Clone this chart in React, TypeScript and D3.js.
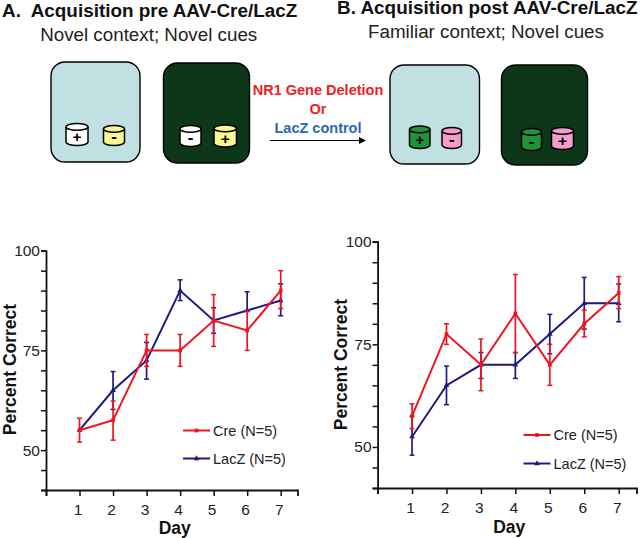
import React, { useEffect, useRef } from "react";
import * as d3 from "d3";

const days = [1, 2, 3, 4, 5, 6, 7];
const yTicks = [40, 45, 50, 55, 60, 65, 70, 75, 80, 85, 90, 95, 100];
const yLabels = [50, 75, 100];

// panel A readings
const preCre = [55, 57.5, 75, 75, 82.5, 80, 90];
const preCreHi = [58, 62.3, 79, 79, 89, 85, 95];
const preCreLo = [52, 52.5, 71, 71, 76, 75, 85.5];
const preLacZ = [55, 65, 72.5, 90, 82.5, 85, 87.5];
const preLacZHi = [55, 69.7, 77, 92.7, 85.7, 89.7, 91.7];
const preLacZLo = [55, 60.2, 67.8, 87.5, 79.3, 85, 83.7];

// panel B readings
const postCre = [57.5, 77.5, 70, 82.5, 70, 80, 87.5];
const postCreHi = [60.5, 80, 76.3, 92, 75, 83.3, 91.5];
const postCreLo = [54.5, 75, 63.7, 73, 65, 76.8, 83.7];
const postLacZ = [52.5, 65, 70, 70, 77.5, 85, 85];
const postLacZHi = [57.5, 69.7, 73, 73, 82.3, 91.3, 89.7];
const postLacZLo = [48, 60.3, 66.7, 66.7, 72.7, 78.7, 80.5];

const RED = "#f0141e";
const BLUE = "#1f1a80";
const FONT = "'Liberation Sans', Arial, sans-serif";

const panels = [
  {
    x0: 46, x1: 280.7, y100: 250.7, y40: 490, end: 297.5, tickLeft: 5,
    yTitleX: 16, yTitleY: 369.5, dayX: 174.7, dayY: 534, legendX: 183, legendY: 430.5, legendGap: 28,
    cre: [preCre, preCreHi, preCreLo], lacZ: [preLacZ, preLacZHi, preLacZLo],
  },
  {
    x0: 377.6, x1: 618.7, y100: 241.7, y40: 488, end: 636.5, tickLeft: 5,
    yTitleX: 347, yTitleY: 364.5, dayX: 509.3, dayY: 533, legendX: 523.5, legendY: 435, legendGap: 28.5,
    cre: [postCre, postCreHi, postCreLo], lacZ: [postLacZ, postLacZHi, postLacZLo],
  },
];

const drawPanel = (root: any, p: (typeof panels)[number]) => {
  const x = d3.scaleLinear().domain([0, 7]).range([p.x0, p.x1]);
  const y = d3.scaleLinear().domain([40, 100]).range([p.y40, p.y100]);
  const g = root.append("g");

  const yAxis = d3.axisLeft(y).tickValues(yTicks).tickSize(p.tickLeft).tickPadding(1)
    .tickFormat((d: any) => (yLabels.includes(d) ? String(d) : ""));
  const ya = g.append("g").attr("transform", `translate(${p.x0},0)`).call(yAxis);
  ya.select(".domain").attr("stroke-width", 1.8).attr("stroke", "#111");
  ya.selectAll("line").attr("stroke-width", 1.5).attr("stroke", "#111");
  ya.selectAll("text").attr("font-family", FONT).attr("font-size", 15.5).attr("fill", "#222");

  const xScaleAxis = d3.scaleLinear().domain([0, (p.end - p.x0) / ((p.x1 - p.x0) / 7)]).range([p.x0, p.end]);
  const xAxis = d3.axisBottom(xScaleAxis).tickValues([0, ...days]).tickSizeOuter(0).tickSize(6).tickPadding(8)
    .tickFormat((d: any) => (d === 0 ? "" : String(d)));
  const xa = g.append("g").attr("transform", `translate(0,${p.y40})`).call(xAxis);
  xa.select(".domain").attr("stroke-width", 1.8).attr("stroke", "#111");
  xa.selectAll("line").attr("stroke-width", 1.5).attr("stroke", "#111");
  xa.selectAll("text").attr("font-family", FONT).attr("font-size", 15.5).attr("fill", "#222").attr("dx", -2);

  g.append("text").attr("x", p.dayX).attr("y", p.dayY).attr("text-anchor", "middle")
    .attr("font-family", FONT).attr("font-weight", "bold").attr("font-size", 17.5).attr("fill", "#111").text("Day");
  g.append("text").attr("transform", `translate(${p.yTitleX},${p.yTitleY}) rotate(-90)`).attr("text-anchor", "middle")
    .attr("font-family", FONT).attr("font-weight", "bold").attr("font-size", 17.5).attr("fill", "#111").text("Percent Correct");

  const line = d3.line<number>().x((_, i) => x(days[i])).y((d) => y(d));

  const series = [
    { vals: p.lacZ, color: BLUE, sym: d3.symbolTriangle },
    { vals: p.cre, color: RED, sym: d3.symbolSquare },
  ];
  series.forEach(({ vals, color, sym }) => {
    const [mean, hi, lo] = vals;
    g.append("path").attr("d", line(mean)).attr("fill", "none").attr("stroke", color).attr("stroke-width", 2);
    days.forEach((d, i) => {
      const cx = x(d);
      if (hi[i] !== lo[i]) {
        g.append("line").attr("x1", cx).attr("x2", cx).attr("y1", y(hi[i])).attr("y2", y(lo[i]))
          .attr("stroke", color).attr("stroke-width", 1.7);
        [hi[i], lo[i]].forEach((v) => {
          g.append("line").attr("x1", cx - 2.5).attr("x2", cx + 2.5).attr("y1", y(v)).attr("y2", y(v))
            .attr("stroke", color).attr("stroke-width", 1.5);
        });
      }
      g.append("path").attr("transform", `translate(${cx},${y(mean[i])})`)
        .attr("d", d3.symbol().type(sym).size(14)()).attr("fill", color);
    });
  });

  // legend
  [
    { label: "Cre (N=5)", color: RED, sym: d3.symbolSquare },
    { label: "LacZ (N=5)", color: BLUE, sym: d3.symbolTriangle },
  ].forEach((s, i) => {
    const ly = p.legendY + i * p.legendGap;
    g.append("line").attr("x1", p.legendX).attr("x2", p.legendX + 27).attr("y1", ly).attr("y2", ly)
      .attr("stroke", s.color).attr("stroke-width", 2);
    g.append("path").attr("transform", `translate(${p.legendX + 13.5},${ly})`)
      .attr("d", d3.symbol().type(s.sym).size(14)()).attr("fill", s.color);
    g.append("text").attr("x", p.legendX + 30).attr("y", ly + 5).attr("font-family", FONT)
      .attr("font-size", 14.5).attr("fill", "#222").text(s.label);
  });
};

const Can = ({ x, top, w, h, fill, sign }: { x: number; top: number; w: number; h: number; fill: string; sign: string }) => {
  const ry = 3.4;
  const body = `M${x},${top + ry}V${top + h - ry}A${w / 2},${ry} 0 0 0 ${x + w},${top + h - ry}V${top + ry}`;
  return (
    <g stroke="#000" strokeWidth={1.5}>
      <path d={body} fill={fill} />
      <ellipse cx={x + w / 2} cy={top + ry} rx={w / 2} ry={ry} fill={fill} />
      <text x={x + w / 2} y={top + h - 3.5} textAnchor="middle" fontFamily={FONT} fontWeight="bold"
        fontSize={sign === "+" ? 15.5 : 17} fill="#000" stroke="none">{sign}</text>
    </g>
  );
};

const Box = ({ x, y, w, h, fill }: { x: number; y: number; w: number; h: number; fill: string }) => (
  <rect x={x} y={y} width={w} height={h} rx={14} fill={fill} stroke="#000" strokeWidth={1.4} />
);

const App: React.FC = () => {
  const ref = useRef<SVGGElement | null>(null);

  useEffect(() => {
    if (!ref.current) return;
    const root = d3.select(ref.current);
    root.selectAll("*").remove();
    panels.forEach((p) => drawPanel(root, p));
  }, []);

  const LIGHT = "#c1e0e2";
  const DARK = "#0e3618";
  const YELLOW = "#fbf690";
  const GREEN = "#1f9338";
  const PINK = "#f59ccb";

  return (
    <svg width={640} height={538} style={{ position: "absolute", left: 0, top: 0 }}>
      <rect width={640} height={538} fill="#fff" />
      <text x={2} y={17} fontFamily={FONT} fontWeight="bold" fontSize={18.9} fill="#111" xmlSpace="preserve">A.  Acquisition pre AAV-Cre/LacZ</text>
      <text x={148.7} y={41} textAnchor="middle" fontFamily={FONT} fontSize={18.8} fill="#222">Novel context; Novel cues</text>
      <text x={337} y={14} fontFamily={FONT} fontWeight="bold" fontSize={18.9} fill="#111">B. Acquisition post AAV-Cre/LacZ</text>
      <text x={486} y={38} textAnchor="middle" fontFamily={FONT} fontSize={18.8} fill="#222">Familiar context; Novel cues</text>

      <Box x={51} y={62} w={89} h={100} fill={LIGHT} />
      <Box x={163.5} y={63} w={86} h={100} fill={DARK} />
      <Box x={390} y={65} w={89.5} h={99} fill={LIGHT} />
      <Box x={501.5} y={65} w={86} h={100} fill={DARK} />

      <Can x={66} top={123.5} w={22} h={22} fill="#fff" sign="+" />
      <Can x={103.5} top={125.5} w={21} h={20} fill={YELLOW} sign="-" />
      <Can x={180} top={125.5} w={21} h={21} fill="#fff" sign="-" />
      <Can x={214} top={125} w={22.5} h={22} fill={YELLOW} sign="+" />
      <Can x={409.5} top={126} w={20.5} h={22.5} fill={GREEN} sign="+" />
      <Can x={442} top={127.5} w={19.5} h={21} fill={PINK} sign="-" />
      <Can x={521.5} top={128.5} w={20} h={22} fill={GREEN} sign="-" />
      <Can x={551.5} top={127.5} w={22} h={22} fill={PINK} sign="+" />

      <text x={318} y={95} textAnchor="middle" fontFamily={FONT} fontWeight="bold" fontSize={14.5} fill="#ee1c25">NR1 Gene Deletion</text>
      <text x={318} y={113.5} textAnchor="middle" fontFamily={FONT} fontWeight="bold" fontSize={14.5} fill="#ee1c25">Or</text>
      <text x={318} y={132.5} textAnchor="middle" fontFamily={FONT} fontWeight="bold" fontSize={14.5} fill="#2a69b0">LacZ control</text>
      <line x1={270} x2={362} y1={140.5} y2={140.5} stroke="#000" strokeWidth={1.2} />
      <path d="M359,137L366,140.5L359,144Z" fill="#000" />

      <g ref={ref} />
    </svg>
  );
};

export default App;
